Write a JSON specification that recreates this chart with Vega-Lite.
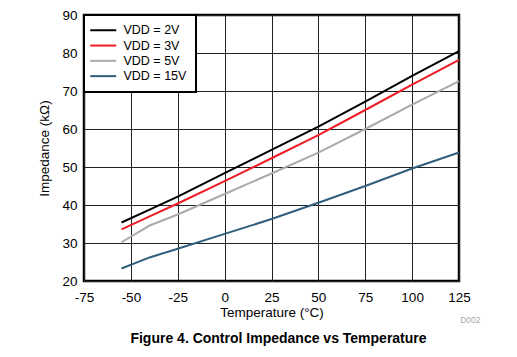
{
  "$schema": "https://vega.github.io/schema/vega-lite/v6.json",
  "width": 375,
  "height": 266,
  "autosize": "none",
  "padding": {"left": 84, "top": 15, "right": 58, "bottom": 76},
  "background": "white",
  "config": {
    "font": "Liberation Sans",
    "view": {"stroke": "black", "strokeWidth": 2.5},
    "axis": {
      "gridColor": "#222222",
      "gridOpacity": 1,
      "gridWidth": 1,
      "domain": false,
      "ticks": false,
      "labelFlush": false,
      "labelOverlap": false,
      "labelColor": "black",
      "labelFontSize": 13.5,
      "titleColor": "black",
      "titleFontSize": 13.5,
      "titleFontWeight": "normal"
    },
    "legend": {
      "orient": "top-left",
      "offset": 0,
      "strokeColor": "black",
      "strokeWidth": 2,
      "fillColor": "white",
      "padding": 9,
      "symbolType": "M-2.6,0H2.6",
      "symbolStrokeWidth": 2,
      "symbolSize": 100,
      "symbolOffset": 4,
      "labelFontSize": 12.5,
      "labelOffset": 14,
      "labelColor": "black",
      "rowPadding": 2.3
    }
  },
  "title": {
    "text": "Figure 4. Control Impedance vs Temperature",
    "orient": "bottom",
    "fontSize": 14,
    "fontWeight": "bold",
    "color": "black",
    "dx": 7,
    "offset": 8
  },
  "data": {
    "values": [
      {"t": -55, "z": 35.4, "s": "VDD = 2V"},
      {"t": -40, "z": 38.8, "s": "VDD = 2V"},
      {"t": -25, "z": 42.2, "s": "VDD = 2V"},
      {"t": 0, "z": 48.4, "s": "VDD = 2V"},
      {"t": 25, "z": 54.5, "s": "VDD = 2V"},
      {"t": 50, "z": 60.6, "s": "VDD = 2V"},
      {"t": 75, "z": 67.2, "s": "VDD = 2V"},
      {"t": 100, "z": 74.0, "s": "VDD = 2V"},
      {"t": 125, "z": 80.5, "s": "VDD = 2V"},
      {"t": -55, "z": 33.6, "s": "VDD = 3V"},
      {"t": -40, "z": 37.0, "s": "VDD = 3V"},
      {"t": -25, "z": 40.4, "s": "VDD = 3V"},
      {"t": 0, "z": 46.3, "s": "VDD = 3V"},
      {"t": 25, "z": 52.3, "s": "VDD = 3V"},
      {"t": 50, "z": 58.4, "s": "VDD = 3V"},
      {"t": 75, "z": 65.0, "s": "VDD = 3V"},
      {"t": 100, "z": 71.7, "s": "VDD = 3V"},
      {"t": 125, "z": 78.2, "s": "VDD = 3V"},
      {"t": -55, "z": 30.2, "s": "VDD = 5V"},
      {"t": -40, "z": 34.6, "s": "VDD = 5V"},
      {"t": -25, "z": 37.5, "s": "VDD = 5V"},
      {"t": 0, "z": 42.9, "s": "VDD = 5V"},
      {"t": 25, "z": 48.3, "s": "VDD = 5V"},
      {"t": 50, "z": 53.8, "s": "VDD = 5V"},
      {"t": 75, "z": 60.0, "s": "VDD = 5V"},
      {"t": 100, "z": 66.4, "s": "VDD = 5V"},
      {"t": 125, "z": 72.6, "s": "VDD = 5V"},
      {"t": -55, "z": 23.3, "s": "VDD = 15V"},
      {"t": -40, "z": 26.2, "s": "VDD = 15V"},
      {"t": -25, "z": 28.5, "s": "VDD = 15V"},
      {"t": 0, "z": 32.4, "s": "VDD = 15V"},
      {"t": 25, "z": 36.3, "s": "VDD = 15V"},
      {"t": 50, "z": 40.6, "s": "VDD = 15V"},
      {"t": 75, "z": 45.0, "s": "VDD = 15V"},
      {"t": 100, "z": 49.6, "s": "VDD = 15V"},
      {"t": 125, "z": 53.8, "s": "VDD = 15V"}
    ]
  },
  "layer": [
    {
      "mark": {"type": "line", "strokeWidth": 2},
      "encoding": {
        "x": {
          "field": "t",
          "type": "quantitative",
          "scale": {"domain": [-75, 125], "nice": false},
          "axis": {
            "values": [-75, -50, -25, 0, 25, 50, 75, 100, 125],
            "labelExpr": "replace(datum.label, '−', '-')",
            "title": "Temperature (°C)",
            "labelPadding": 9,
            "titlePadding": 2
          }
        },
        "y": {
          "field": "z",
          "type": "quantitative",
          "scale": {"domain": [20, 90], "nice": false},
          "axis": {
            "values": [20, 30, 40, 50, 60, 70, 80, 90],
            "title": "Impedance (kΩ)",
            "labelPadding": 7,
            "titlePadding": 10
          }
        },
        "color": {
          "field": "s",
          "type": "nominal",
          "scale": {
            "domain": ["VDD = 2V", "VDD = 3V", "VDD = 5V", "VDD = 15V"],
            "range": ["#000000", "#ee1c24", "#aaaaaa", "#2f5f7c"]
          },
          "legend": {"title": null}
        }
      }
    },
    {
      "mark": {"type": "point", "opacity": 0},
      "encoding": {
        "x": {
          "field": "t",
          "type": "quantitative",
          "axis": {
            "orient": "bottom",
            "labels": false,
            "grid": false,
            "title": "D002",
            "titleX": 396,
            "titleAlign": "right",
            "titleColor": "#aaaaaa",
            "titleFontSize": 8.5,
            "titlePadding": 0,
            "offset": 34
          }
        }
      }
    }
  ],
  "resolve": {"axis": {"x": "independent"}}
}
